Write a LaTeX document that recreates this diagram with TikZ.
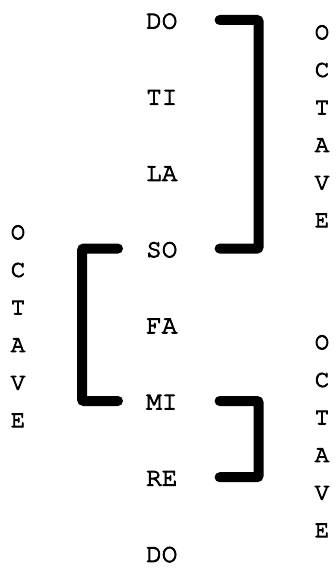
\documentclass[tikz,border=0pt]{standalone}
\usepackage{tikz}
\usetikzlibrary{positioning}
\newcommand{\courier}{\fontencoding{T1}\fontfamily{pcr}\selectfont}
\newcommand{\inked}[1]{\special{pdf:code q 2 Tr 0.9 w}#1\special{pdf:code Q}}

\begin{document}
\begin{tikzpicture}[
        x=1pt, y=-1pt,
        node distance=58.8pt,
        note/.style={inner sep=0pt, text height=17pt, text depth=0pt, font=\fontsize{26}{26}\courier},
        octave/.style={inner sep=0pt, align=center, font=\fontsize{24}{37.6}\courier},
        bar/.style={line width=10pt, line cap=round, rounded corners=2pt}
    ]
    \useasboundingbox (0,0) rectangle (335,569);

    % Scale
    \node[note, anchor=west] (do1) at (146,20) {\inked{DO}};
    \node[note, below=of do1] (ti) {\inked{TI}};
    \node[note, below=of ti] (la) {\inked{LA}};
    \node[note, below=of la] (so) {\inked{SO}};
    \node[note, below=of so] (fa) {\inked{FA}};
    \node[note, below=of fa] (mi) {\inked{MI}};
    \node[note, below=of mi] (re) {\inked{RE}};
    \node[note, below=of re] (do2) {\inked{DO}};

    % Brackets
    \draw[bar] ([xshift=42pt]do1.east) -| ([xshift=81pt]so.east) -- ([xshift=42pt]so.east);
    \draw[bar] ([xshift=-28pt]so.west) -| ([xshift=-64pt]mi.west) -- ([xshift=-28pt]mi.west);
    \draw[bar] ([xshift=42pt]mi.east) -| ([xshift=81pt]re.east) -- ([xshift=42pt]re.east);

    % Side labels
    \node[octave] (oct1) at (322,126) {\inked{O}\\\inked{C}\\\inked{T}\\\inked{A}\\\inked{V}\\\inked{E}};
    \node[octave] (oct2) at (18,326) {\inked{O}\\\inked{C}\\\inked{T}\\\inked{A}\\\inked{V}\\\inked{E}};
    \node[octave] (oct3) at (322,436) {\inked{O}\\\inked{C}\\\inked{T}\\\inked{A}\\\inked{V}\\\inked{E}};
\end{tikzpicture}
\end{document}
